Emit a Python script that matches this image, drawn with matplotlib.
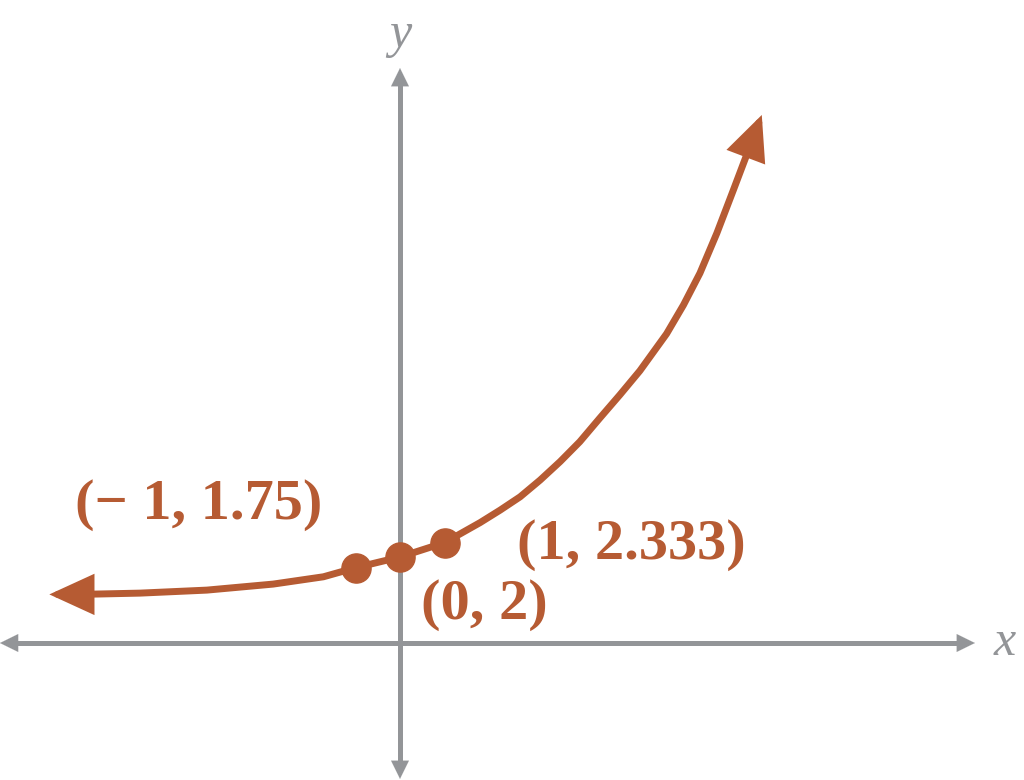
import matplotlib
matplotlib.use("Agg")
import matplotlib.pyplot as plt
from matplotlib.patches import FancyArrowPatch

plt.rcParams["font.family"] = "serif"
plt.rcParams["font.serif"] = ["Liberation Serif", "DejaVu Serif"]

# curve points (data units)
curve_x = [-7.88, -7.19, -5.84, -4.34, -2.85, -1.72, -1.0, 0.0, 1.0, 1.80, 2.25, 2.70,
           3.15, 3.60, 4.04, 4.49, 4.94, 5.39, 5.99, 6.37, 6.74, 7.12, 7.49, 7.79, 8.13]
curve_y = [1.13, 1.13, 1.16, 1.23, 1.37, 1.54, 1.75, 2.0, 2.333, 2.80, 3.09, 3.40,
           3.79, 4.22, 4.68, 5.23, 5.77, 6.33, 7.19, 7.86, 8.60, 9.53, 10.53, 11.35, 12.28]

# labelled points
pt_x = [-1, 0, 1]
pt_y = [1.75, 2, 2.333]
pt_labels = ["(\u2212 1, 1.75)", "(0, 2)", "(1, 2.333)"]
label_pos = [(-4.52, 3.21), (1.89, 0.88), (5.21, 2.28)]

ORANGE = "#B65B33"
GRAY = "#939598"

fig = plt.figure(figsize=(10.24, 7.8), dpi=100)
ax = fig.add_axes([0, 0, 1, 1])
ax.set_xlim(-400 / 44.5, 624 / 44.5)
ax.set_ylim(-137 / 43, 643 / 43)
ax.axis("off")


def arrow(p0, p1, color, lw, hl, hw, ms=20, z=2):
    ax.add_patch(FancyArrowPatch(p0, p1, arrowstyle=f"-|>,head_length={hl},head_width={hw}",
                                 mutation_scale=ms, color=color, lw=lw, zorder=z,
                                 shrinkA=0, shrinkB=0, joinstyle="miter"))


# axes with arrows at both ends
x0, x1 = -8.99, 12.92
y0, y1 = -3.16, 13.37
ax.plot([x0 + 0.3, x1 - 0.3], [0, 0], color=GRAY, lw=3.6, zorder=1, solid_capstyle="butt")
ax.plot([0, 0], [y0 + 0.3, y1 - 0.3], color=GRAY, lw=3.6, zorder=1, solid_capstyle="butt")
arrow((x1 - 0.5, 0), (x1, 0), GRAY, 0.1, 0.65, 0.32)
arrow((x0 + 0.5, 0), (x0, 0), GRAY, 0.1, 0.65, 0.32)
arrow((0, y1 - 0.5), (0, y1), GRAY, 0.1, 0.65, 0.32)
arrow((0, y0 + 0.5), (0, y0), GRAY, 0.1, 0.65, 0.32)

ax.text(0, 14.15, "y", fontsize=36, style="italic", color=GRAY, ha="center", va="center")
ax.text(13.6, 0.0, "x", fontsize=36, style="italic", color=GRAY, ha="center", va="center")

# curve
ax.plot(curve_x[1:-1], curve_y[1:-1], color=ORANGE, lw=5, zorder=3,
        solid_capstyle="butt", solid_joinstyle="round")
arrow((curve_x[1], curve_y[1]), (curve_x[0], curve_y[0]), ORANGE, 5, 1.2, 0.55, z=3)
arrow((curve_x[-2], curve_y[-2]), (curve_x[-1], curve_y[-1]), ORANGE, 5, 1.2, 0.55, z=3)

ax.plot(pt_x, pt_y, "o", color=ORANGE, markersize=21, zorder=4)
for lab, (lx, ly) in zip(pt_labels, label_pos):
    ax.text(lx, ly, lab, fontsize=42, weight="bold", color=ORANGE, ha="center", va="center")

fig.savefig("out.png", dpi=100)
